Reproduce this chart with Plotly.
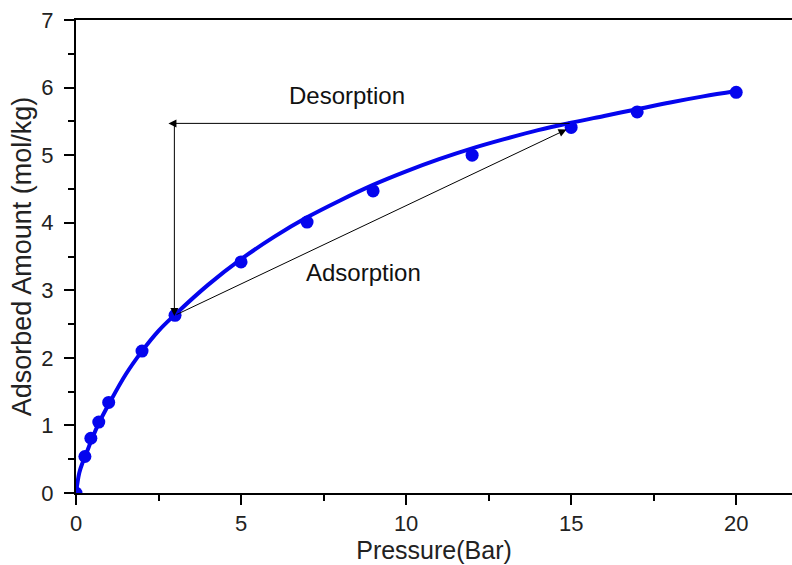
import plotly.graph_objects as go

# experimental points
pressure = [0, 0.27, 0.45, 0.69, 0.99, 2, 3, 5, 7, 9, 12, 15, 17, 20]
adsorbed = [0, 0.54, 0.81, 1.05, 1.34, 2.1, 2.63, 3.42, 4.01, 4.47, 5.0, 5.41, 5.64, 5.93]

# fitted curve
fit_x = [0, 0.1, 0.2, 0.3, 0.5, 0.7, 1, 1.5, 2, 2.5, 3, 4, 5, 6, 7, 8, 9, 10,
         11, 12, 13, 14, 15, 16, 17, 18, 19, 20]
fit_y = [0, 0.3, 0.45, 0.57, 0.82, 1.04, 1.32, 1.75, 2.1, 2.4, 2.64, 3.08, 3.46,
         3.79, 4.08, 4.33, 4.56, 4.76, 4.94, 5.1, 5.24, 5.37, 5.48, 5.58, 5.68,
         5.78, 5.87, 5.95]

x_ticks = [0, 5, 10, 15, 20]
y_ticks = [0, 1, 2, 3, 4, 5, 6, 7]

BLUE = "#0505ee"
FONT = "Liberation Sans, Arial, sans-serif"

fig = go.Figure()
fig.add_trace(go.Scatter(x=fit_x, y=fit_y, mode="lines", line=dict(color=BLUE, width=4, shape="spline"),
                         showlegend=False, hoverinfo="skip"))
fig.add_trace(go.Scatter(x=pressure, y=adsorbed, mode="markers",
                         marker=dict(color=BLUE, size=13), showlegend=False))

arrow = dict(xref="x", yref="y", axref="x", ayref="y", showarrow=True, text="",
             arrowhead=2, arrowsize=1.6, arrowwidth=1, arrowcolor="black")
# desorption horizontal
fig.add_annotation(x=2.8, y=5.47, ax=15.0, ay=5.47, **arrow)
# vertical down
fig.add_annotation(x=2.98, y=2.62, ax=2.98, ay=5.47, **arrow)
# adsorption diagonal
fig.add_annotation(x=14.86, y=5.38, ax=3.0, ay=2.63, **arrow)

fig.add_annotation(x=8.2, y=5.89, xref="x", yref="y", text="Desorption", showarrow=False,
                   font=dict(family=FONT, size=24, color="#111"))
fig.add_annotation(x=8.72, y=3.26, xref="x", yref="y", text="Adsorption", showarrow=False,
                   font=dict(family=FONT, size=24, color="#111"))

fig.update_layout(
    width=792, height=565,
    margin=dict(l=76, r=0, t=20, b=72),
    paper_bgcolor="white", plot_bgcolor="white",
    font=dict(family=FONT, size=22, color="#222"),
    xaxis=dict(range=[0, 21.69], tickvals=x_ticks, ticks="outside", ticklen=10, tickwidth=2,
               tickcolor="black", showline=True, linecolor="black", linewidth=2, mirror=True,
               showgrid=False, zeroline=False,
               minor=dict(dtick=2.5, ticks="outside", ticklen=6, tickwidth=2, tickcolor="black"),
               title=dict(text="Pressure(Bar)", font=dict(size=25), standoff=0),
               tickfont=dict(size=22)),
    yaxis=dict(range=[0, 7], tickvals=y_ticks, ticks="outside", ticklen=10, tickwidth=2,
               tickcolor="black", showline=True, linecolor="black", linewidth=2,
               showgrid=False, zeroline=False, ticklabelstandoff=6,
               minor=dict(dtick=0.5, ticks="outside", ticklen=6, tickwidth=2, tickcolor="black"),
               title=dict(text="Adsorbed Amount (mol/kg)", font=dict(size=27), standoff=2),
               tickfont=dict(size=22)),
)

fig.write_html("out.html")
